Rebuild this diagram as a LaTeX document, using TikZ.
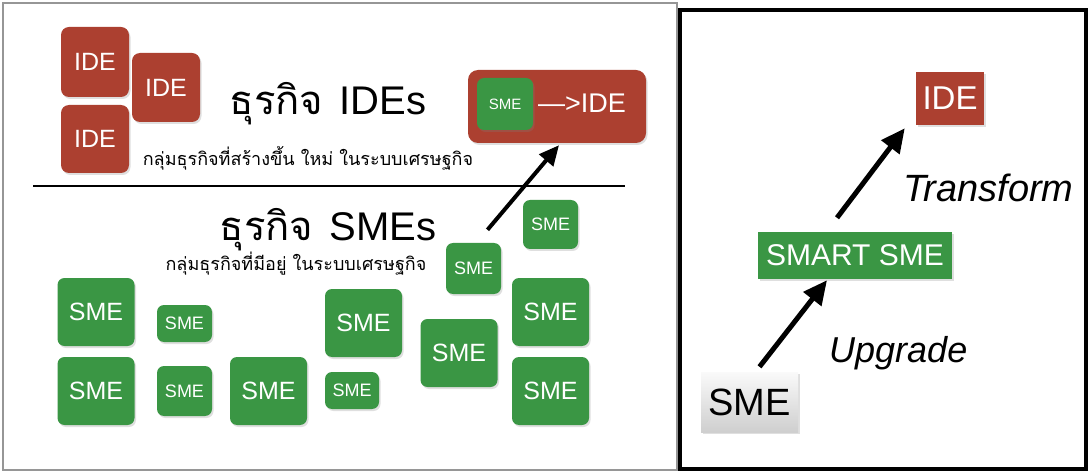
\documentclass[tikz,border=0pt]{standalone}
\usepackage{fontspec}
\setmainfont{Liberation Sans}
\newfontfamily\thaifont[Script=Thai]{Loma}
\usetikzlibrary{calc,shadows,arrows.meta}
\newcommand\setfs[1]{\fontsize{#1}{#1}\selectfont}
\definecolor{idered}{RGB}{172,64,48}
\definecolor{smegreen}{RGB}{58,150,68}
\definecolor{framegray}{RGB}{150,150,150}
\tikzset{
  boxshadow/.style={drop shadow={opacity=0.25,shadow xshift=1.5pt,shadow yshift=-2pt}},
  redbox/.style={fill=idered,rounded corners=8pt,text=white,inner sep=0pt,boxshadow},
  grnbox/.style={fill=smegreen,rounded corners=7pt,text=white,inner sep=0pt,boxshadow},
  bigsme/.style={grnbox,minimum width=77pt,minimum height=68pt,font=\setfs{25}},
  smallsme/.style={grnbox,font=\setfs{18}},
  titletext/.style={anchor=base,inner sep=0pt,font=\setfs{40}},
  subtext/.style={anchor=base,inner sep=0pt,font=\thaifont\setfs{18}},
  fatarrow/.style={line width=5pt,-{Triangle[length=24pt,width=22pt]}},
  midarrow/.style={line width=4pt,-{Triangle[length=20pt,width=18pt]}},
  steptext/.style={anchor=base west,inner sep=0pt,font=\itshape\setfs{37}}
}
\begin{document}
\begin{tikzpicture}[x=1pt,y=-1pt]
\useasboundingbox (0,0) rectangle (1090,473);
\fill[white] (0,0) rectangle (1090,473);

% frames of the two panels
\draw[framegray,line width=1.5pt] (3,3) rectangle (677,470);
\draw[black,line width=4pt] (680,10) rectangle (1086,469);

% ---- left panel: IDE group ----
\node[redbox,minimum width=68pt,minimum height=70pt,font=\setfs{25}] (ide1) at (95,62) {IDE};
\node[redbox,minimum width=68pt,minimum height=69pt,font=\setfs{25}] (ide2) at (166,87.5) {IDE};
\node[redbox,minimum width=68pt,minimum height=68pt,font=\setfs{25}] (ide3) at (95,139) {IDE};

\node[titletext] (t1) at (328,115) {{\thaifont ธุรกิจ}\hspace{16pt}IDEs};
\node[subtext] (st1) at (308,166) {กลุ่มธุรกิจที่สร้างขึ้น ใหม่ ในระบบเศรษฐกิจ};

\node[redbox,rounded corners=10pt,minimum width=178pt,minimum height=73pt] (big) at (557,106.5) {};
\node[grnbox,minimum width=56pt,minimum height=52pt,font=\setfs{15}] (inner) at (505,104) {SME};
\node[anchor=west,inner sep=0pt,text=white,font=\setfs{27}] (toide) at (538,103) {—>IDE};

% separator
\coordinate (sepL) at (33,186.5);
\coordinate (sepR) at (625,186.5);
\draw[line width=2pt] (sepL) -- (sepR);

% ---- left panel: SME group ----
\node[titletext] (t2) at (328,241) {{\thaifont ธุรกิจ}\hspace{16pt}SMEs};
\node[subtext] (st2) at (296,270) {กลุ่มธุรกิจที่มีอยู่ ในระบบเศรษฐกิจ};

\node[smallsme,minimum width=55pt,minimum height=49pt] (s1) at (550.5,224.5) {SME};
\node[smallsme,minimum width=55pt,minimum height=51pt] (s2) at (473.5,268.5) {SME};
\node[bigsme] (s3) at (96,312) {SME};
\node[smallsme,minimum width=55pt,minimum height=37pt] (s4) at (184.5,323.5) {SME};
\node[bigsme] (s5) at (363.5,323) {SME};
\node[bigsme] (s6) at (459,353) {SME};
\node[bigsme] (s7) at (550.5,312) {SME};
\node[bigsme] (s8) at (96,391) {SME};
\node[smallsme,minimum width=55pt,minimum height=50pt] (s9) at (184.5,391) {SME};
\node[bigsme] (s10) at (268.5,391) {SME};
\node[smallsme,minimum width=54pt,minimum height=37pt] (s11) at (352,390.5) {SME};
\node[bigsme] (s12) at (550.5,391) {SME};

\draw[midarrow] ($(s2.north)+(14,-13)$) -- ($(big.south)+(2,2)$);

% ---- right panel: upgrade path ----
\node[fill=idered,text=white,inner sep=0pt,minimum width=68pt,minimum height=53pt,font=\setfs{33},boxshadow] (ider) at (950,98.5) {IDE};
\node[fill=smegreen,text=white,inner sep=0pt,minimum width=194pt,minimum height=47pt,font=\setfs{30},boxshadow] (smart) at (855,255.5) {SMART SME};
\node[top color=gray!4,bottom color=gray!38,text=black,inner sep=0pt,minimum width=97pt,minimum height=60pt,font=\setfs{38},boxshadow] (sme0) at (749.5,402) {SME};

\draw[fatarrow] ($(smart.north)+(-18,-14)$) -- ($(ider.south west)+(-11,3)$);
\draw[fatarrow] ($(sme0.north)+(10,-5)$) -- ($(smart.south)+(-28,1)$);

\node[steptext,font=\itshape\setfs{38}] (lt) at (903,202) {Transform};
\node[steptext,font=\itshape\setfs{36}] (lu) at (829,362) {Upgrade};
\end{tikzpicture}
\end{document}
